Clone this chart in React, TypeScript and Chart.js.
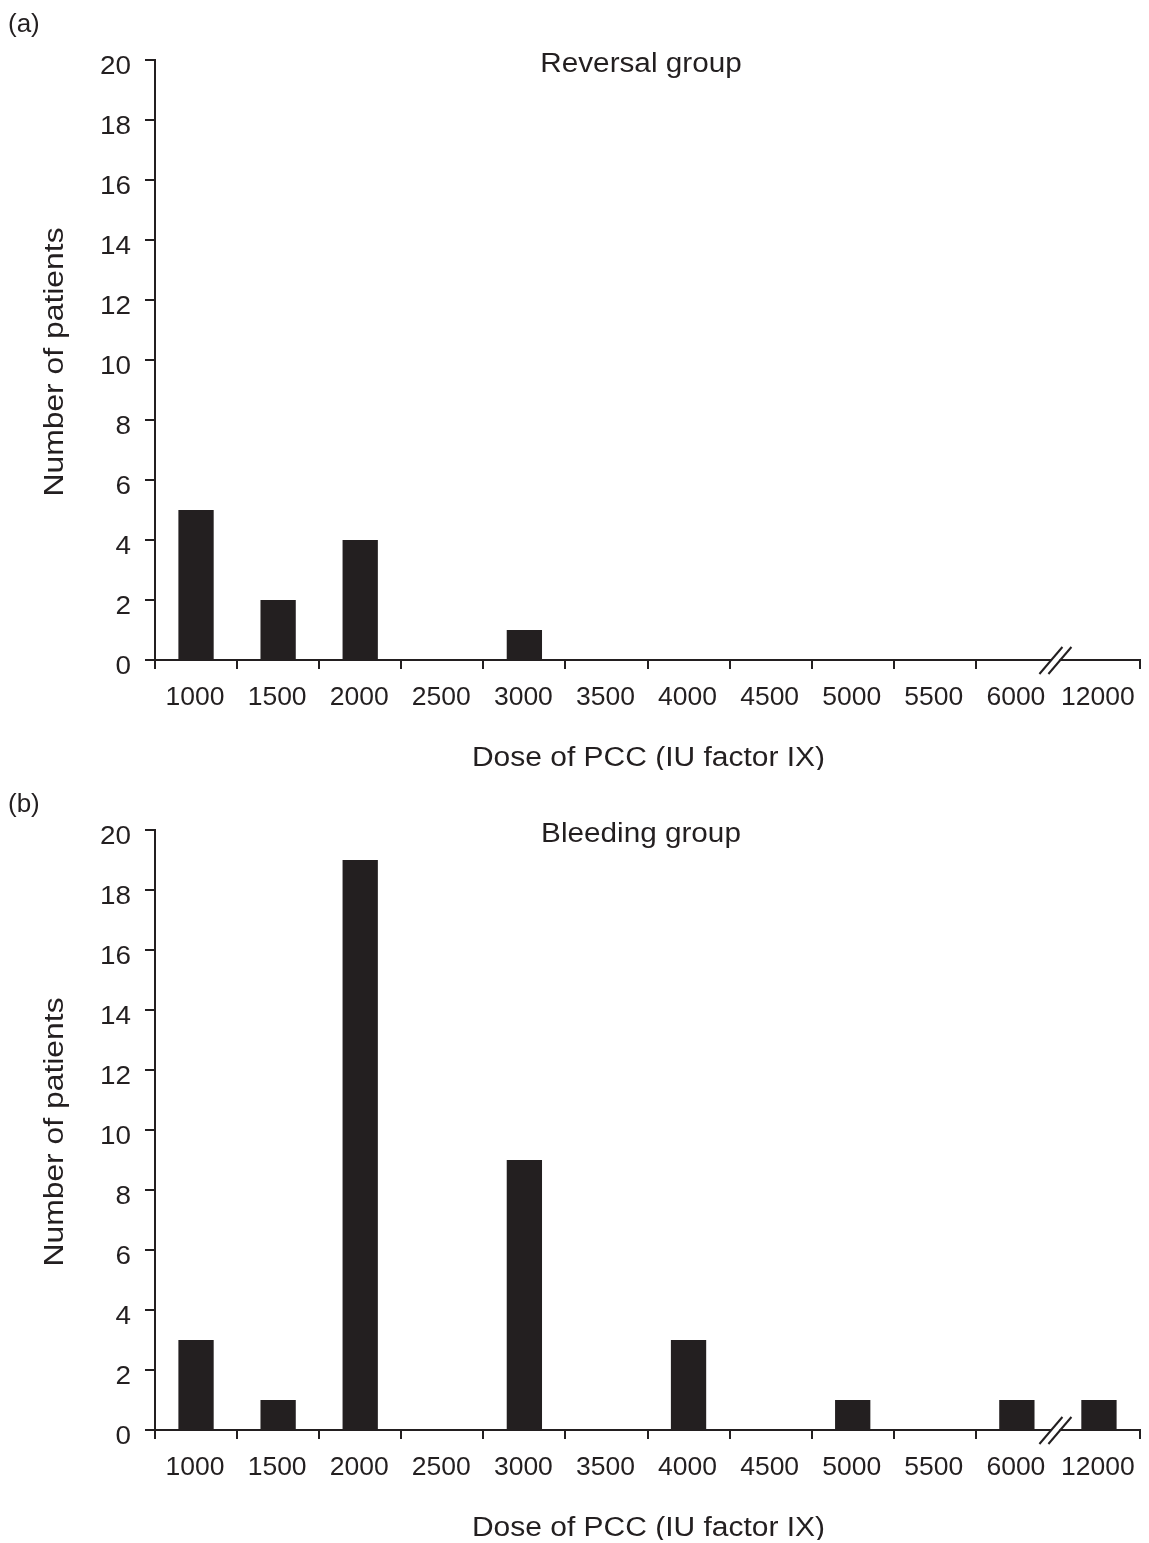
import React, { useEffect, useRef } from 'react';
import { Chart, registerables } from 'chart.js';

Chart.register(...registerables);

// ---- Data ----
const doseLabels = ['1000', '1500', '2000', '2500', '3000', '3500', '4000', '4500', '5000', '5500', '6000', '12000'];
const reversalCounts = [5, 2, 4, 0, 1, 0, 0, 0, 0, 0, 0, 0];
const bleedingCounts = [3, 1, 19, 0, 9, 0, 3, 0, 1, 0, 1, 1];
const yMin = 0;
const yMax = 20;
const yStep = 2;
const xTitle = 'Dose of PCC (IU factor IX)';
const yTitle = 'Number of patients';

const INK = '#231f20';
const FONT = '"Liberation Sans", Arial, Helvetica, sans-serif';
const W = 1149;
const H = 770;

function drawText(
  ctx: CanvasRenderingContext2D,
  text: string,
  x: number,
  y: number,
  align: CanvasTextAlign,
  size: number,
  sx: number,
  rotate = 0
) {
  ctx.save();
  ctx.translate(x, y);
  if (rotate) ctx.rotate(rotate);
  ctx.scale(sx, 1);
  ctx.font = `${size}px ${FONT}`;
  ctx.textAlign = align;
  ctx.textBaseline = 'alphabetic';
  ctx.fillStyle = INK;
  ctx.fillText(text, 0, 0);
  ctx.restore();
}

const decorPlugin = {
  id: 'decor',
  afterDraw(chart: any, _args: any, opts: any) {
    const { ctx, chartArea, scales } = chart;
    const xs = scales.x;
    const ys = scales.y;
    ctx.save();

    // break mark between 6000 and 12000
    const bi = doseLabels.indexOf('12000');
    const cx = (xs.getPixelForValue(bi - 1) + xs.getPixelForValue(bi)) / 2 - 2.5;
    const yb = chartArea.bottom;
    ctx.fillStyle = '#ffffff';
    ctx.fillRect(cx - 4, yb - 3, 8, 6);
    ctx.strokeStyle = INK;
    ctx.lineWidth = 2;
    [-4.5, 4.5].forEach((d) => {
      ctx.beginPath();
      ctx.moveTo(cx + d - 11.5, yb + 14);
      ctx.lineTo(cx + d + 11.5, yb - 13);
      ctx.stroke();
    });

    // y tick labels
    ys.ticks.forEach((t: any) => {
      const py = ys.getPixelForValue(t.value);
      drawText(ctx, String(t.value), 131, py + 13.5, 'right', 26, 1.07);
    });
    // x tick labels
    xs.ticks.forEach((t: any, i: number) => {
      const px = xs.getPixelForTick(i);
      drawText(ctx, String(xs.getLabelForValue(t.value)), px - 1, 705, 'center', 26, 1.02);
    });
    // x title
    drawText(ctx, xTitle, (chartArea.left + chartArea.right) / 2 + 1, 766, 'center', 27, 1.11);
    // y title
    drawText(ctx, yTitle, 62.5, (chartArea.top + chartArea.bottom) / 2 + 2, 'center', 27, 1.18, -Math.PI / 2);
    // chart title
    drawText(ctx, opts.title, 641, 72, 'center', 27, 1.1);
    // panel label
    drawText(ctx, opts.panel, 8, opts.panelY, 'left', 26, 1.0);

    ctx.restore();
  },
};

function Panel({ counts, title, panel, panelY, top }: { counts: number[]; title: string; panel: string; panelY: number; top: number }) {
  const ref = useRef<HTMLCanvasElement | null>(null);
  useEffect(() => {
    if (!ref.current) return;
    const chart = new Chart(ref.current, {
      type: 'bar',
      data: {
        labels: doseLabels,
        datasets: [
          {
            data: counts,
            backgroundColor: INK,
            borderWidth: 0,
            barPercentage: 0.43,
            categoryPercentage: 1,
          },
        ],
      },
      options: {
        responsive: false,
        animation: false,
        layout: { padding: { left: 0, right: 9, top: 60, bottom: 0 } },
        plugins: {
          legend: { display: false },
          tooltip: { enabled: false },
          decor: { title, panel, panelY },
        } as any,
        scales: {
          x: {
            type: 'category',
            offset: true,
            ticks: { display: false },
            grid: {
              offset: true,
              drawOnChartArea: false,
              drawTicks: true,
              tickLength: 9,
              lineWidth: 2,
              color: (c: any) => (c.index === doseLabels.indexOf('12000') ? 'rgba(0,0,0,0)' : INK),
            },
            border: { display: true, color: INK, width: 2 },
            afterFit: (s: any) => {
              s.height = 110;
            },
          },
          y: {
            min: yMin,
            max: yMax,
            ticks: { display: false, stepSize: yStep },
            grid: {
              drawOnChartArea: false,
              drawTicks: true,
              tickLength: 10,
              lineWidth: 2,
              color: INK,
            },
            border: { display: true, color: INK, width: 2 },
            afterFit: (s: any) => {
              s.width = 155;
            },
          },
        },
      },
      plugins: [decorPlugin],
    });
    return () => chart.destroy();
  }, [counts, title, panel, panelY]);

  return (
    <canvas
      ref={ref}
      width={W}
      height={H}
      style={{ position: 'absolute', left: 0, top, width: W, height: H, display: 'block' }}
    />
  );
}

export default function App() {
  return (
    <div style={{ position: 'absolute', left: 0, top: 0, width: W, height: 1543, background: '#ffffff' }}>
      <Panel counts={reversalCounts} title="Reversal group" panel="(a)" panelY={31.5} top={0} />
      <Panel counts={bleedingCounts} title="Bleeding group" panel="(b)" panelY={41.5} top={H} />
    </div>
  );
}
